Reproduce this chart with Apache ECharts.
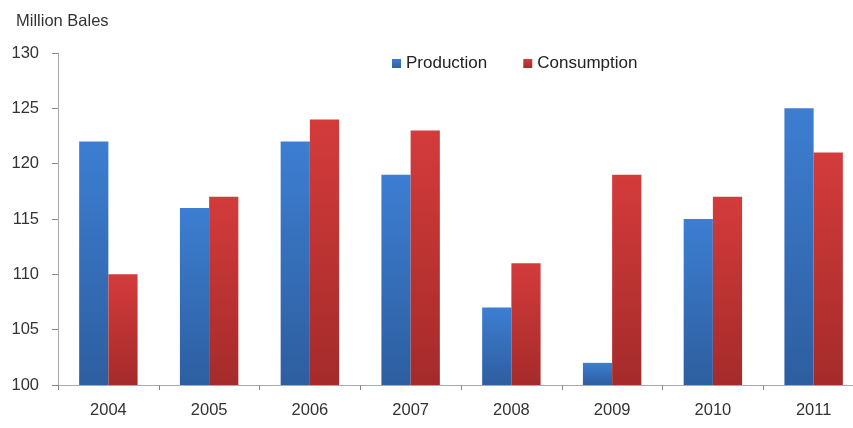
<!DOCTYPE html>
<html><head><meta charset="utf-8">
<script src="https://cdn.jsdelivr.net/npm/echarts@6/dist/echarts.min.js"></script>
<style>html,body{margin:0;padding:0;background:#fff;overflow:hidden;width:853px;height:428px}#c{width:866px;height:428px}</style>
</head><body><div id="c"></div>
<script>
var categories = ['2004','2005','2006','2007','2008','2009','2010','2011'];
var production = [122, 116, 122, 119, 107, 102, 115, 125];
var consumption = [110, 117, 124, 123, 111, 119, 117, 121];
var yTicks = [100, 105, 110, 115, 120, 125, 130];

var chart = echarts.init(document.getElementById('c'));
var font = 'Liberation Sans, Arial, sans-serif';
chart.setOption({
  animation: false,
  backgroundColor: '#fff',
  grid: {left: 58, right: 2, top: 53, bottom: 43, containLabel: false},
  title: {text: 'Million Bales', left: 11, top: 8, textStyle: {fontFamily: font, fontSize: 16.5, fontWeight: 'normal', color: '#333'}},
  legend: {
    top: 50, left: 387, itemWidth: 9, itemHeight: 9, itemGap: 36,
    icon: 'rect',
    textStyle: {fontFamily: font, fontSize: 17, color: '#222'},
    data: ['Production', 'Consumption']
  },
  xAxis: {
    type: 'category', data: categories,
    axisLine: {lineStyle: {color: '#aaa'}},
    axisTick: {show: true, length: 5, lineStyle: {color: '#888'}},
    axisLabel: {fontFamily: font, fontSize: 16.5, color: '#333', margin: 17}
  },
  yAxis: {
    type: 'value', min: yTicks[0], max: yTicks[yTicks.length-1], interval: 5,
    axisLine: {show: true, lineStyle: {color: '#aaa'}},
    axisTick: {show: true, length: 6, lineStyle: {color: '#888'}},
    splitLine: {show: false},
    axisLabel: {fontFamily: font, fontSize: 16.5, color: '#333', margin: 19}
  },
  series: [
    {name: 'Production', type: 'bar', data: production, barGap: '0%', barCategoryGap: '42%',
     itemStyle: {color: new echarts.graphic.LinearGradient(0,0,0,1,[{offset:0,color:'#3d7ed2'},{offset:1,color:'#2d5e9f'}])}},
    {name: 'Consumption', type: 'bar', data: consumption, barGap: '0%', barCategoryGap: '42%',
     itemStyle: {color: new echarts.graphic.LinearGradient(0,0,0,1,[{offset:0,color:'#d43b3b'},{offset:1,color:'#a42b2a'}])}}
  ]
});
</script></body></html>
